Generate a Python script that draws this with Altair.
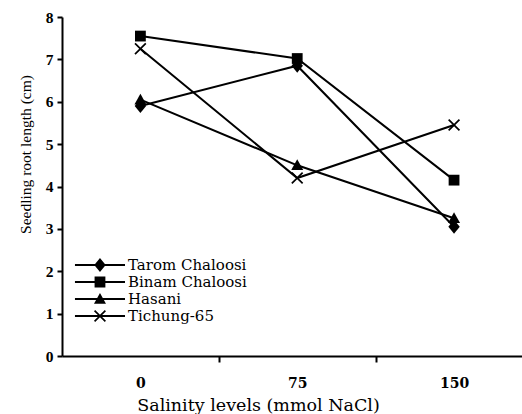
import altair as alt
import pandas as pd

# ---- data ----
salinity = [0, 75, 150]
series = ["Tarom Chaloosi", "Binam Chaloosi", "Hasani", "Tichung-65"]
tarom = [5.9, 6.85, 3.05]
binam = [7.55, 7.02, 4.15]
hasani = [6.05, 4.5, 3.25]
tichung = [7.25, 4.2, 5.45]
x_tick_values = [0, 37.5, 75, 112.5, 150]
y_tick_values = [0, 1, 2, 3, 4, 5, 6, 7, 8]

rows = []
for name, vals in zip(series, [tarom, binam, hasani, tichung]):
    for s, v in zip(salinity, vals):
        rows.append({"salinity": s, "length": v, "series": name})
df = pd.DataFrame(rows)

# ---- marker shapes (unit square -1..1) ----
diamond = [(0, -1.15), (0.95, 0), (0, 1.15), (-0.95, 0)]
square = [(-0.9, -0.9), (0.9, -0.9), (0.9, 0.9), (-0.9, 0.9)]
triangle = [(0, -1.0), (1.0, 0.8), (-1.0, 0.8)]
xshape = [(-1, -0.8), (-0.8, -1), (0, -0.2), (0.8, -1), (1, -0.8), (0.2, 0),
          (1, 0.8), (0.8, 1), (0, 0.2), (-0.8, 1), (-1, 0.8), (-0.2, 0)]
shapes = [diamond, square, triangle, xshape]


def poly(points, s=1.0, dx=0.0):
    return "M" + "L".join(f"{x * s + dx:.3f},{y * s:.3f}" for x, y in points) + "Z"


marker_paths = [poly(p) for p in shapes]
line_seg = [(-4.56, -0.111), (1.0, -0.111), (1.0, 0.111), (-4.56, 0.111)]
legend_paths = [poly(line_seg) + poly(p, 0.667, -1.78) for p in shapes]

TIMES = "Times New Roman, Liberation Serif, serif"
WIDE = "DejaVu Serif, serif"

x_enc = alt.X(
    "salinity:Q",
    scale=alt.Scale(domain=[-37.5, 182.5], nice=False, zero=False),
    axis=alt.Axis(
        values=x_tick_values,
        labelExpr="datum.value % 75 === 0 ? datum.label : ''",
        tickOpacity={"condition": {"test": "datum.value % 75 === 0", "value": 0}, "value": 1},
        tickSize=6,
        labelPadding=14,
        labelFont=WIDE,
        labelFontSize=14,
        labelFontWeight="bold",
        labelFlush=False,
        labelOverlap=False,
        title="Salinity levels (mmol NaCl)",
        titleFont=WIDE,
        titleFontSize=17.5,
        titleX=196,
        titleY=54,
        titleBaseline="alphabetic",
    ),
)
y_enc = alt.Y(
    "length:Q",
    scale=alt.Scale(domain=[0, 8], nice=False),
    axis=alt.Axis(
        values=y_tick_values,
        format="d",
        tickSize=5,
        labelPadding=4,
        labelFont=TIMES,
        labelFontSize=15.5,
        labelFontWeight="bold",
        labelFlush=False,
        labelOverlap=False,
        title="Seedling root length (cm)",
        titleFont=TIMES,
        titleFontSize=15.5,
        titleX=-29,
        titleY=137,
    ),
)

base = alt.Chart(df)

lines = base.mark_line(color="black", strokeWidth=2).encode(
    x=x_enc, y=y_enc, detail="series:N"
)

points = base.mark_point(filled=True, color="black", size=144, opacity=1).encode(
    x=x_enc,
    y=y_enc,
    shape=alt.Shape("series:N", scale=alt.Scale(domain=series, range=marker_paths), legend=None),
)

legend_layer = base.mark_point(filled=True, color="black", size=324, opacity=0).encode(
    x=x_enc,
    y=y_enc,
    shape=alt.Shape(
        "series:N",
        scale=alt.Scale(domain=series, range=legend_paths),
        legend=alt.Legend(
            title=None,
            orient="none",
            legendX=45,
            legendY=239,
            symbolSize=324,
            symbolOpacity=1,
            symbolFillColor="black",
            symbolStrokeWidth=0,
            labelFont=WIDE,
            labelFontSize=15,
            labelColor="black",
            labelOffset=3,
            labelLimit=400,
            rowPadding=0,
            padding=0,
        ),
    ),
)

chart = (
    alt.layer(lines, points, legend_layer)
    .resolve_scale(shape="independent")
    .properties(
        width=460,
        height=339,
        autosize=alt.AutoSizeParams(type="none"),
        padding={"left": 62, "top": 17, "right": 0, "bottom": 58},
        background="white",
    )
    .configure_view(stroke=None)
    .configure_axis(
        grid=False,
        domainColor="black",
        domainWidth=2,
        tickColor="black",
        tickWidth=2,
        labelColor="black",
        titleFontWeight="normal",
        titleColor="black",
    )
    .configure_legend(labelFont=WIDE, labelColor="black")
)

chart.save("out.html", embed_options={"renderer": "svg", "actions": False})
